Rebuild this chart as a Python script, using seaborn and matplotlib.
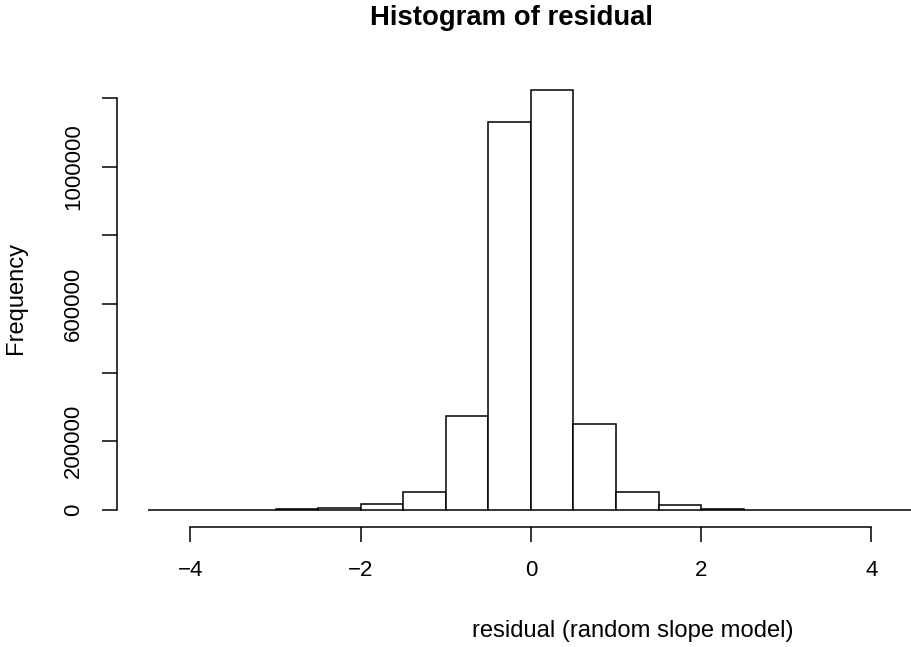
import matplotlib

matplotlib.use("Agg")
import matplotlib.pyplot as plt
import numpy as np
import pandas as pd
import seaborn as sns

# histogram of residuals, bins of width 0.5 (counts)
bin_edges = [-4.5, -4.0, -3.5, -3.0, -2.5, -2.0, -1.5, -1.0, -0.5, 0.0,
             0.5, 1.0, 1.5, 2.0, 2.5, 3.0, 3.5, 4.0, 4.5]
bin_counts = [0, 0, 0, 3000, 5000, 16000, 52000, 275000, 1132000, 1224000,
              250000, 52000, 15000, 4000, 0, 0, 0, 0]
x_ticks = [-4, -2, 0, 2, 4]
y_ticks = [0, 200000, 400000, 600000, 800000, 1000000, 1200000]
y_tick_labels = ["0", "200000", "", "600000", "", "1000000", ""]

sns.set_style("white")
plt.rcParams["font.family"] = ["Liberation Sans", "DejaVu Sans"]
plt.rcParams["text.color"] = "black"

edges = np.array(bin_edges)
df = pd.DataFrame({"residual": (edges[:-1] + edges[1:]) / 2, "n": bin_counts})

fig = plt.figure(figsize=(9.12, 6.47), dpi=100)
ax = fig.add_axes([0.1286, 0.1858, 0.907, 0.7011])

sns.histplot(data=df, x="residual", weights="n", bins=list(bin_edges), stat="count",
             color="white", edgecolor="black", linewidth=1.1, alpha=1, ax=ax)

# R-style ranges: data range stretched by 4% on each side
top = max(bin_counts)
span = bin_edges[-1] - bin_edges[0]
ax.set_xlim(bin_edges[0] - 0.04 * span, bin_edges[-1] + 0.04 * span)
ax.set_ylim(-0.04 * top, 1.04 * top)

ax.set_xticks(x_ticks)
ax.set_yticks(y_ticks)
ax.set_yticklabels(y_tick_labels)
ax.tick_params(axis="both", bottom=True, left=True, direction="out", length=10.8, width=1.1,
               color="black", labelcolor="black", labelsize=16)
ax.tick_params(axis="x", pad=13)
ax.tick_params(axis="y", pad=13)
for lab in ax.get_yticklabels():
    lab.set_rotation(90)
    lab.set_va("center")
    lab.set_ha("right")

for side in ["top", "right"]:
    ax.spines[side].set_visible(False)
ax.spines["bottom"].set_bounds(x_ticks[0], x_ticks[-1])
ax.spines["left"].set_bounds(y_ticks[0], y_ticks[-1])
for side in ["bottom", "left"]:
    ax.spines[side].set_linewidth(1.1)
    ax.spines[side].set_color("black")

ax.set_xlabel("")
ax.set_ylabel("")
fig.text(511.5 / 912, 1 - 25 / 647, "Histogram of residual", ha="center", va="baseline",
         fontsize=19.8, fontweight="bold", color="black")
fig.text(632.5 / 912, 1 - 637 / 647, "residual (random slope model)", ha="center", va="baseline",
         fontsize=17.1, color="black")
fig.text(16 / 912, 1 - 298 / 647, "Frequency", rotation=90, ha="center", va="center",
         fontsize=17.1, color="black")

fig.savefig("out.png", dpi=100)
